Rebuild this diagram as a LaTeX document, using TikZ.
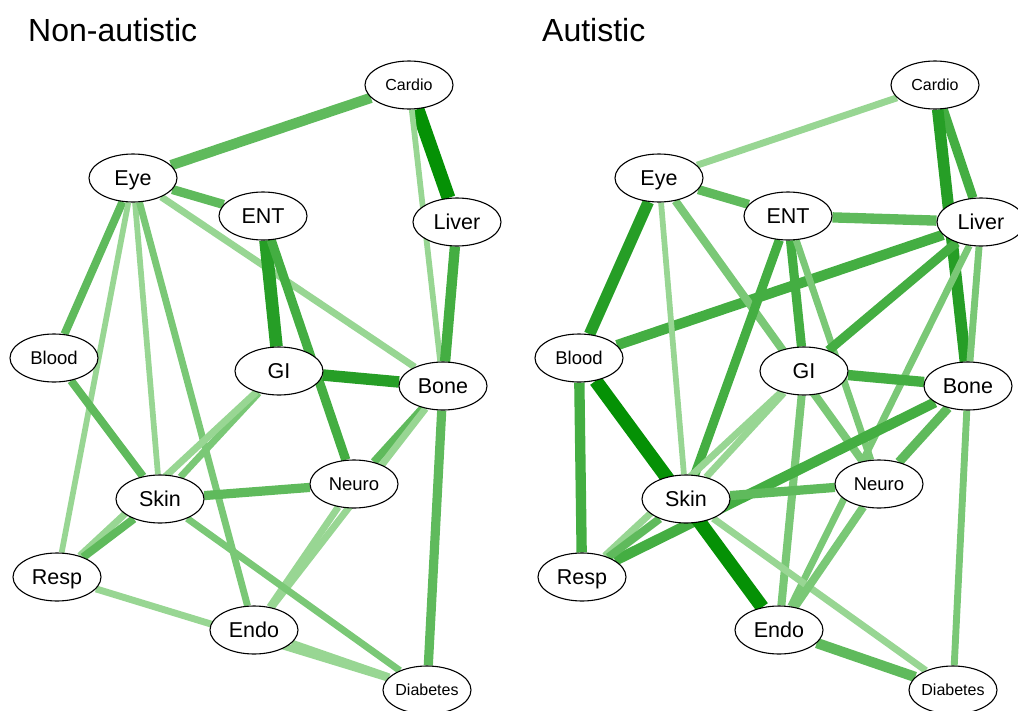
\documentclass[tikz,border=0pt]{standalone}
\usepackage{fontspec}
\setmainfont{Liberation Sans}
\usetikzlibrary{shapes.geometric}
\pgfdeclarelayer{bg}
\pgfsetlayers{bg,main}
\definecolor{g1}{RGB}{152,214,147}
\definecolor{g2}{RGB}{122,200,118}
\definecolor{g3}{RGB}{95,186,92}
\definecolor{g4}{RGB}{68,174,66}
\definecolor{g5}{RGB}{38,158,38}
\definecolor{g6}{RGB}{5,145,5}
\begin{document}
\begin{tikzpicture}[x=1pt,y=-1pt,
  organ/.style={ellipse, draw=black, line width=1.1pt, fill=white, minimum width=88pt, minimum height=48pt, inner sep=0pt},
  lbig/.style={organ, font=\fontsize{21.5}{21.5}\selectfont, text height=15.3pt, text depth=0pt},
  lmid/.style={organ, font=\fontsize{18.5}{18.5}\selectfont, text height=13.3pt, text depth=0pt},
  lsmall/.style={organ, font=\fontsize{16}{16}\selectfont, text height=11.5pt, text depth=0pt},
  paneltitle/.style={anchor=base west, inner sep=0pt, font=\fontsize{32}{32}\selectfont}
]
\useasboundingbox (0,0) rectangle (1018,710);

\node[paneltitle] (t1) at (28,41) {Non-autistic};
\node[paneltitle] (t2) at (542,41) {Autistic};

% left panel nodes
\node[lsmall] (lCardio) at (409,85) {Cardio};
\node[lbig] (lEye) at (133,178) {Eye};
\node[lbig] (lENT) at (263,216) {ENT};
\node[lbig] (lLiver) at (457,222) {Liver};
\node[lmid] (lBlood) at (54,358) {Blood};
\node[lbig] (lGI) at (279,371) {GI};
\node[lbig] (lBone) at (443,386) {Bone};
\node[lmid] (lNeuro) at (354,484) {Neuro};
\node[lbig] (lSkin) at (160,499) {Skin};
\node[lbig] (lResp) at (57,577) {Resp};
\node[lbig] (lEndo) at (254,630) {Endo};
\node[lsmall] (lDiabetes) at (427,690) {\makebox[0pt]{Diabetes}};

% right panel nodes
\node[lsmall] (rCardio) at (935,85) {Cardio};
\node[lbig] (rEye) at (659,178) {Eye};
\node[lbig] (rENT) at (788,216) {ENT};
\node[lbig] (rLiver) at (981,222) {Liver};
\node[lmid] (rBlood) at (579,358) {Blood};
\node[lbig] (rGI) at (804,371) {GI};
\node[lbig] (rBone) at (968,386) {Bone};
\node[lmid] (rNeuro) at (879,484) {Neuro};
\node[lbig] (rSkin) at (686,499) {Skin};
\node[lbig] (rResp) at (582,577) {Resp};
\node[lbig] (rEndo) at (779,630) {Endo};
\node[lsmall] (rDiabetes) at (953,690) {\makebox[0pt]{Diabetes}};

\begin{pgfonlayer}{bg}
\foreach \a/\b/\c/\w in {
  Eye/Cardio/g3/9, Cardio/Liver/g6/12, Cardio/Bone/g1/5, Liver/Bone/g4/9,
  Eye/ENT/g3/8, Eye/Bone/g1/6, Eye/Blood/g3/7, Eye/Resp/g1/5, Eye/Skin/g1/5,
  Eye/Endo/g2/6, ENT/GI/g5/11, ENT/Neuro/g4/8, GI/Bone/g5/10, GI/Skin/g2/6,
  GI/Resp/g1/6, Bone/Neuro/g3/7, Bone/Endo/g1/6, Neuro/Endo/g1/6,
  Bone/Diabetes/g3/8, Blood/Skin/g3/7, Skin/Neuro/g3/8, Skin/Resp/g3/7,
  Skin/Diabetes/g2/6, Resp/Diabetes/g1/6, Endo/Diabetes/g1/6}
  \draw[draw=\c, line width={1.15*\w pt}] (l\a) -- (l\b);
\foreach \a/\b/\c/\w in {
  Eye/Cardio/g1/6, Cardio/Liver/g4/8, Cardio/Bone/g5/10, Eye/ENT/g3/8,
  ENT/Liver/g3/9, Liver/Blood/g4/9, Eye/Blood/g5/10, Eye/Skin/g1/5,
  Eye/Neuro/g2/7, ENT/Skin/g4/8, ENT/GI/g4/8, ENT/Neuro/g2/6, Liver/GI/g4/8,
  Liver/Bone/g2/6, Liver/Endo/g2/6, GI/Bone/g4/9, GI/Skin/g1/6, GI/Resp/g1/6,
  GI/Endo/g2/7, Bone/Neuro/g3/8, Bone/Resp/g4/9, Bone/Diabetes/g2/6,
  Blood/Endo/g6/12, Blood/Resp/g4/9, Skin/Resp/g3/7, Skin/Neuro/g3/8,
  Skin/Diabetes/g1/6, Neuro/Endo/g2/7, Endo/Diabetes/g3/9}
  \draw[draw=\c, line width={1.15*\w pt}] (r\a) -- (r\b);
\end{pgfonlayer}
\end{tikzpicture}
\end{document}
